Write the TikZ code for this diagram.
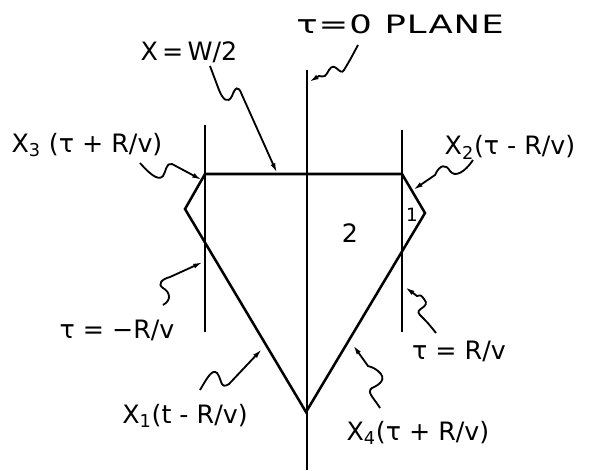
\documentclass[tikz,border=0pt]{standalone}
\usepackage{fontspec}
\setmainfont{DejaVu Sans}
\newfontfamily\widehand[FakeStretch=1.4, LetterSpace=4]{DejaVu Sans}
\usetikzlibrary{arrows.meta}

\begin{document}
\begin{tikzpicture}[
    x=0.025cm, y=-0.025cm,
    every node/.style={font=\fontsize{18}{20}\selectfont, inner sep=0pt},
    edge/.style={line width=1.8pt, line join=miter},
    lead/.style={line width=1.3pt, -{Latex[length=7pt,width=3.5pt]}}
]
\useasboundingbox (0,0) rectangle (589,470);
% corners of the region
\coordinate (tl) at (205,174);
\coordinate (tr) at (402,174);
\coordinate (la) at (185,209);
\coordinate (ra) at (425,213);
\coordinate (vb) at (306,412);
% planes
\coordinate (ztop) at (307,70);
\coordinate (zbot) at (307,470);
\coordinate (ltop) at (205,125);
\coordinate (lbot) at (205,332);
\coordinate (rtop) at (402,130);
\coordinate (rbot) at (402,332);
\draw[edge] (ztop) -- (zbot);
\draw[edge] (ltop) -- (lbot);
\draw[edge] (rtop) -- (rbot);
% boundary
\draw[edge] (tl) -- (la) -- (vb) -- (ra) -- (tr) -- cycle;
% labels
\node (xw) at (189,52) {X\,=\,W/2};
\node[font=\fontsize{18}{20}\widehand] (plane) at (400,24) {τ=0\hspace{0.5em}PLANE};
\node (xthree) at (87,145) {X\textsubscript{3} (τ + R/v)};
\node (xtwo) at (510,147) {X\textsubscript{2}(τ - R/v)};
\node (tneg) at (117,330) {τ = −R/v};
\node (tpos) at (459,351) {τ = R/v};
\node (xone) at (185,416) {X\textsubscript{1}(t - R/v)};
\node (xfour) at (418,433) {X\textsubscript{4}(τ + R/v)};
\node[font=\fontsize{13}{15}\selectfont] (rone) at (412,215) {1};
\node (rtwo) at (350,233) {2};
% leader ends
\coordinate (a0) at (210,66);   \coordinate (tipa) at (277,173);
\coordinate (b0) at (140,163);  \coordinate (tipb) at (202,180);
\coordinate (c0) at (358,45);   \coordinate (tipc) at (309,82);
\coordinate (d0) at (473,160);  \coordinate (tipd) at (413,190);
\coordinate (e0) at (163,305);  \coordinate (tipe) at (203,262);
\coordinate (f0) at (436,333);  \coordinate (tipf) at (405,287);
\coordinate (g0) at (200,390);  \coordinate (tipg) at (262,349);
\coordinate (h0) at (380,408);  \coordinate (tiph) at (353,345);
% wavy leaders
\draw[lead] (a0) -- (219,90) .. controls (223,100) and (228,104) .. (232,96) .. controls (235,88) and (238,84) .. (242,95) -- (tipa);
\draw[lead] (b0) .. controls (148,172) and (158,182) .. (163,176) .. controls (166,172) and (166,162) .. (172,164) -- (tipb);
\draw[lead] (c0) .. controls (350,60) .. (344,70) .. controls (340,77) and (335,60) .. (329,70) .. controls (325,77) .. (319,76) -- (tipc);
\draw[lead] (d0) .. controls (465,172) and (455,178) .. (450,171) .. controls (446,164) and (440,164) .. (435,175) -- (tipd);
\draw[lead] (e0) .. controls (172,300) and (170,292) .. (163,288) .. controls (157,284) and (162,279) .. (170,277) -- (tipe);
\draw[lead] (f0) .. controls (428,323) .. (420,315) .. controls (413,308) and (432,308) .. (424,299) .. controls (421,295) .. (417,296) -- (tipf);
\draw[lead] (g0) .. controls (206,380) and (212,368) .. (217,373) .. controls (222,379) and (220,390) .. (229,384) -- (tipg);
\draw[lead] (h0) .. controls (374,398) and (366,392) .. (372,388) .. controls (379,385) and (388,379) .. (378,371) .. controls (374,368) .. (368,366) -- (tiph);
\end{tikzpicture}
\end{document}
